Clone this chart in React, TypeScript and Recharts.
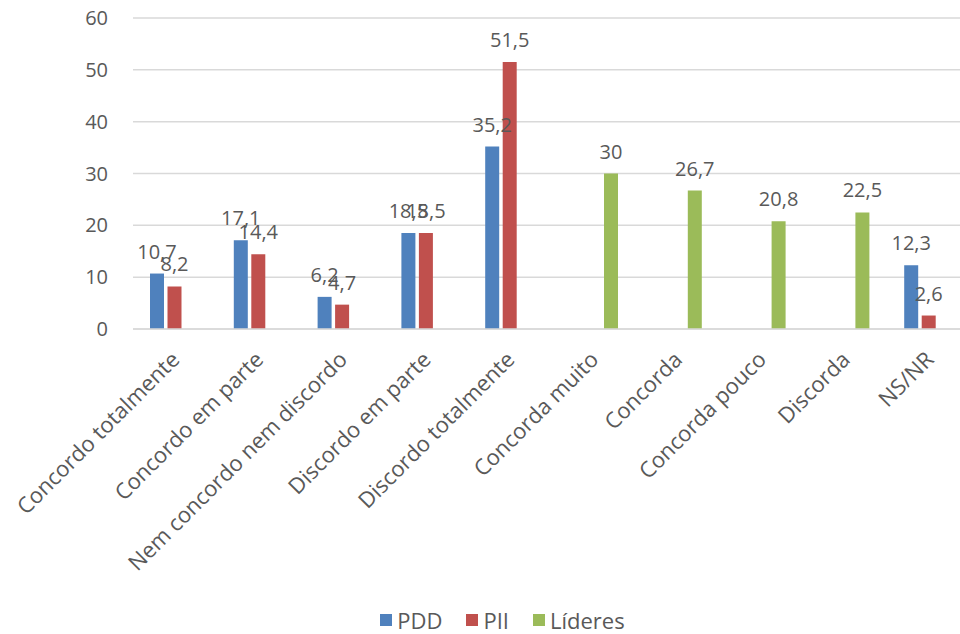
import React from 'react';
import { BarChart, Bar, XAxis, YAxis, CartesianGrid, Legend, LabelList } from 'recharts';

const categories = [
  'Concordo totalmente',
  'Concordo em parte',
  'Nem concordo nem discordo',
  'Discordo em parte',
  'Discordo totalmente',
  'Concorda muito',
  'Concorda',
  'Concorda pouco',
  'Discorda',
  'NS/NR',
];
const pddValues = [10.7, 17.1, 6.2, 18.5, 35.2, null, null, null, null, 12.3];
const piiValues = [8.2, 14.4, 4.7, 18.5, 51.5, null, null, null, null, 2.6];
const lideresValues = [null, null, null, null, null, 30, 26.7, 20.8, 22.5, null];
const yTicks = [0, 10, 20, 30, 40, 50, 60];

const seriesInfo = [
  { key: 'PDD', color: '#4f81bd' },
  { key: 'PII', color: '#c0504d' },
  { key: 'Líderes', color: '#9bbb59' },
];

const data = categories.map((name, i) => ({
  name,
  PDD: pddValues[i],
  PII: piiValues[i],
  'Líderes': lideresValues[i],
}));

const TEXT = '#595959';
const FONT = '"Open Sans", sans-serif';

const fmt = (v: number) => String(v).replace('.', ',');

const ValueLabel = (props: any) => {
  const { x, y, width, value } = props;
  if (value === null || value === undefined) return null;
  return (
    <text x={x + width / 2} y={y - 15} textAnchor="middle" fill={TEXT} fontSize={20} fontFamily={FONT}>
      {fmt(value)}
    </text>
  );
};

const CategoryTick = (props: any) => {
  const { x, y, payload } = props;
  const ax = x + 6;
  const ay = y + 24;
  return (
    <text
      x={ax}
      y={ay}
      transform={`rotate(-45, ${ax}, ${ay})`}
      textAnchor="end"
      fill={TEXT}
      fontSize={22}
      fontFamily={FONT}
    >
      {payload.value}
    </text>
  );
};

const LegendContent = () => (
  <div style={{ display: 'flex', justifyContent: 'center', alignItems: 'center', fontFamily: FONT, fontSize: 22, color: TEXT, lineHeight: '28px' }}>
    {seriesInfo.map((s, i) => (
      <span key={s.key} style={{ display: 'flex', alignItems: 'center', marginRight: i < seriesInfo.length - 1 ? 24 : 0 }}>
        <span style={{ width: 12, height: 12, background: s.color, display: 'inline-block', marginRight: 5 }} />
        {s.key}
      </span>
    ))}
  </div>
);

export default function App() {
  return (
    <div style={{ position: 'absolute', left: 0, top: 0, width: 960, height: 634, overflow: 'hidden', background: '#fff' }}>
      <BarChart
        width={980}
        height={634}
        data={data}
        margin={{ top: 18, right: 9, left: 0, bottom: 50 }}
        barSize={14}
        barGap={3.5}
      >
        <CartesianGrid vertical={false} stroke="#d9d9d9" strokeWidth={1.5} />
        <XAxis
          dataKey="name"
          interval={0}
          height={227}
          axisLine={{ stroke: '#d9d9d9', strokeWidth: 1.5 }}
          tickLine={false}
          tick={<CategoryTick />}
        />
        <YAxis
          domain={[0, 60]}
          ticks={yTicks}
          width={133}
          axisLine={false}
          tickLine={false}
          tickMargin={19}
          tick={{ fill: TEXT, fontSize: 20, fontFamily: FONT }}
        />
        <Legend
          content={<LegendContent />}
          wrapperStyle={{ position: 'absolute', left: 0, width: 1005, top: 606 }}
        />
        {seriesInfo.map(s => (
          <Bar key={s.key} dataKey={s.key} fill={s.color} isAnimationActive={false}>
            <LabelList dataKey={s.key} content={<ValueLabel />} />
          </Bar>
        ))}
      </BarChart>
    </div>
  );
}
